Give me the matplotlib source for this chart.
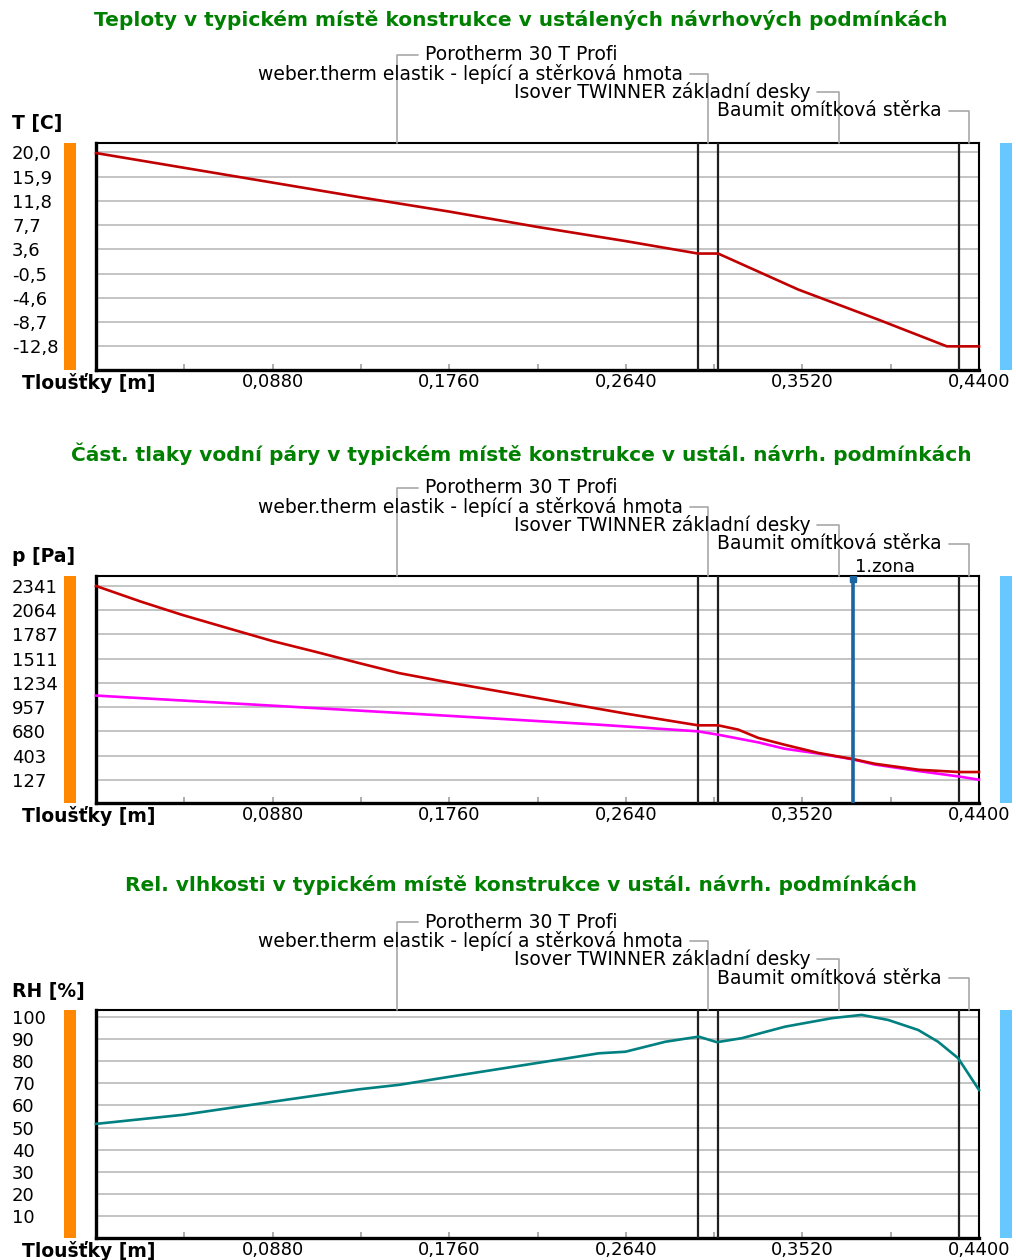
import matplotlib
matplotlib.use('Agg')
import matplotlib.pyplot as plt
from matplotlib.patches import Rectangle
from matplotlib.ticker import FixedLocator

# ---------------- data ----------------
layer_names = ["Porotherm 30 T Profi",
               "weber.therm elastik - lepící a stěrková hmota",
               "Isover TWINNER základní desky",
               "Baumit omítková stěrka"]
layer_bounds = [0.0, 0.30, 0.31, 0.43, 0.44]

x_major = [0.088, 0.176, 0.264, 0.352, 0.44]
x_major_labels = ["0,0880", "0,1760", "0,2640", "0,3520", "0,4400"]
x_minor = [0.044, 0.132, 0.220, 0.308, 0.396]

# temperature
x_T = [0.0, 0.044, 0.088, 0.132, 0.176, 0.220, 0.264, 0.300, 0.310, 0.350, 0.390, 0.424, 0.440]
T_vals = [19.9, 17.4, 14.9, 12.4, 10.0, 7.4, 5.0, 2.9, 2.9, -3.2, -8.3, -12.8, -12.8]
T_ticks = [20.0, 15.9, 11.8, 7.7, 3.6, -0.5, -4.6, -8.7, -12.8]
T_tick_labels = ["20,0", "15,9", "11,8", "7,7", "3,6", "-0,5", "-4,6", "-8,7", "-12,8"]

# saturated vapour pressure
x_psat = [0.0, 0.022, 0.043, 0.067, 0.088, 0.110, 0.131, 0.151, 0.176, 0.264, 0.300,
          0.310, 0.320, 0.330, 0.343, 0.360, 0.377, 0.388, 0.410, 0.430, 0.440]
psat_vals = [2341, 2165, 2010, 1850, 1711, 1585, 1460, 1345, 1237, 882, 748,
             748, 699, 604, 527, 432, 363, 309, 240, 214, 214]
# partial vapour pressure
x_pv = [0.0, 0.151, 0.250, 0.300, 0.310, 0.330, 0.343, 0.360, 0.377, 0.388, 0.410, 0.430, 0.440]
pv_vals = [1088, 890, 756, 679, 641, 553, 481, 425, 360, 300, 225, 163, 126]
p_ticks = [2341, 2064, 1787, 1511, 1234, 957, 680, 403, 127]
zone_x = 0.3774
zone_label = "1.zona"

# relative humidity
x_RH = [0.0, 0.0434, 0.0881, 0.1313, 0.1511, 0.176, 0.2506, 0.2638, 0.2837, 0.3003,
        0.3094, 0.3218, 0.3434, 0.3666, 0.3815, 0.3948, 0.4097, 0.4196, 0.4296, 0.4400]
RH_vals = [51.7, 55.8, 61.7, 67.3, 69.3, 72.9, 83.5, 84.2, 88.7, 91.0,
           88.5, 90.3, 95.5, 99.3, 100.8, 98.5, 94.0, 88.7, 81.3, 67.0]
RH_ticks = [100, 90, 80, 70, 60, 50, 40, 30, 20, 10]

titles = ["Teploty v typickém místě konstrukce v ustálených návrhových podmínkách",
          "Část. tlaky vodní páry v typickém místě konstrukce v ustál. návrh. podmínkách",
          "Rel. vlhkosti v typickém místě konstrukce v ustál. návrh. podmínkách"]
ylabels = ["T [C]", "p [Pa]", "RH [%]"]
xlabel = "Tloušťky [m]"

# ---------------- layout ----------------
W, H = 1016, 1260
fig = plt.figure(figsize=(W / 100, H / 100), dpi=100)
fig.patch.set_facecolor('white')

def fx(px):
    return px / W

def fy(py):
    return 1 - py / H

AX_L, AX_R = 96, 979
panels = [
    dict(top=143, bot=370, title_y=20, ylim=(-16.8, 21.6),
         ticks=T_ticks, labels=T_tick_labels),
    dict(top=576, bot=803, title_y=454, ylim=(-140, 2455),
         ticks=p_ticks, labels=[str(v) for v in p_ticks]),
    dict(top=1010, bot=1238, title_y=885, ylim=(0.3, 103),
         ticks=RH_ticks, labels=[str(v) for v in RH_ticks]),
]

FONT = 'DejaVu Sans'
GREEN = '#008000'
GRID = '#c4c4c4'
LEADER = '#a8a8a8'
TICK_FS = 13
LAYER_FS = 13.5

label_offsets = [(28, 88, 'left'), (-25, 69, 'right'), (-28, 51, 'right'), (-27, 32, 'right')]

axes = []
for i, P in enumerate(panels):
    ax = fig.add_axes([fx(AX_L), fy(P['bot']), fx(AX_R) - fx(AX_L), (P['bot'] - P['top']) / H])
    axes.append(ax)
    ax.set_xlim(0, 0.44)
    ax.set_ylim(*P['ylim'])
    ax.set_yticks(P['ticks'])
    ax.set_yticklabels(P['labels'], fontsize=TICK_FS, family=FONT)
    for lbl in ax.get_yticklabels():
        lbl.set_ha('left')
    ax.tick_params(axis='y', length=0, pad=(AX_L - 12) * 0.72)
    ax.yaxis.grid(True, color=GRID, lw=1.4)
    ax.set_axisbelow(True)
    ax.xaxis.set_major_locator(FixedLocator(x_major))
    ax.set_xticklabels(x_major_labels, fontsize=TICK_FS, family=FONT)
    ax.xaxis.set_minor_locator(FixedLocator(x_minor))
    ax.tick_params(axis='x', which='both', direction='in', length=4, width=1.2,
                   color='#a0a0a0', pad=2.5)
    for s in ['left', 'bottom']:
        ax.spines[s].set_linewidth(2.4)
    for s in ['top', 'right']:
        ax.spines[s].set_linewidth(1.5)
    for b in layer_bounds[1:-1]:
        ax.axvline(b, color='#202020', lw=1.6, zorder=3)

    # side colour bars
    fig.patches.append(Rectangle((fx(64), fy(P['bot'])), fx(76) - fx(64),
                                 (P['bot'] - P['top']) / H, transform=fig.transFigure,
                                 facecolor='#ff8800', edgecolor='none'))
    fig.patches.append(Rectangle((fx(1000), fy(P['bot'])), fx(1012) - fx(1000),
                                 (P['bot'] - P['top']) / H, transform=fig.transFigure,
                                 facecolor='#66c8ff', edgecolor='none'))

    # title and axis labels
    fig.text(fx(521), fy(P['title_y']), titles[i], color=GREEN, fontsize=14.5,
             fontweight='bold', family=FONT, ha='center', va='center')
    fig.text(fx(12), fy(P['top'] - 19), ylabels[i], fontsize=13.5, fontweight='bold',
             family=FONT, ha='left', va='center')
    fig.text(fx(22), fy(P['bot'] + 13), xlabel, fontsize=13.5, fontweight='bold',
             family=FONT, ha='left', va='center')

    # layer labels with leader lines
    for j, name in enumerate(layer_names):
        xm = (layer_bounds[j] + layer_bounds[j + 1]) / 2
        dx, dy, ha = label_offsets[j]
        ax.annotate(name, xy=(xm, 1), xycoords=('data', 'axes fraction'),
                    xytext=(dx, dy), textcoords='offset pixels', ha=ha, va='center',
                    fontsize=LAYER_FS, family=FONT, annotation_clip=False,
                    arrowprops=dict(arrowstyle='-', color=LEADER, lw=1.2,
                                    connectionstyle='angle,angleA=0,angleB=90,rad=0',
                                    relpos=(0 if ha == 'left' else 1, 0.5),
                                    shrinkA=3, shrinkB=0))

axT, axP, axR = axes
axT.plot(x_T, T_vals, color='#c00000', lw=1.9, zorder=4, clip_on=False)
axP.plot(x_pv, pv_vals, color='#ff00ff', lw=1.9, zorder=4, clip_on=False)
axP.plot(x_psat, psat_vals, color='#c80000', lw=1.9, zorder=5, clip_on=False)
axP.axvline(zone_x, ymin=0, ymax=0.985, color='#1a64a0', lw=2.6, zorder=6)
axP.plot([zone_x], [2420], marker='s', ms=4, color='#1a64a0', zorder=6)
axP.annotate(zone_label, xy=(zone_x, 1), xycoords=('data', 'axes fraction'),
             xytext=(2, 9), textcoords='offset pixels', ha='left', va='center',
             fontsize=13, family=FONT, annotation_clip=False)
axR.plot(x_RH, RH_vals, color='#008080', lw=1.9, zorder=4, clip_on=False)

fig.savefig('out.png', dpi=100, facecolor='white')
